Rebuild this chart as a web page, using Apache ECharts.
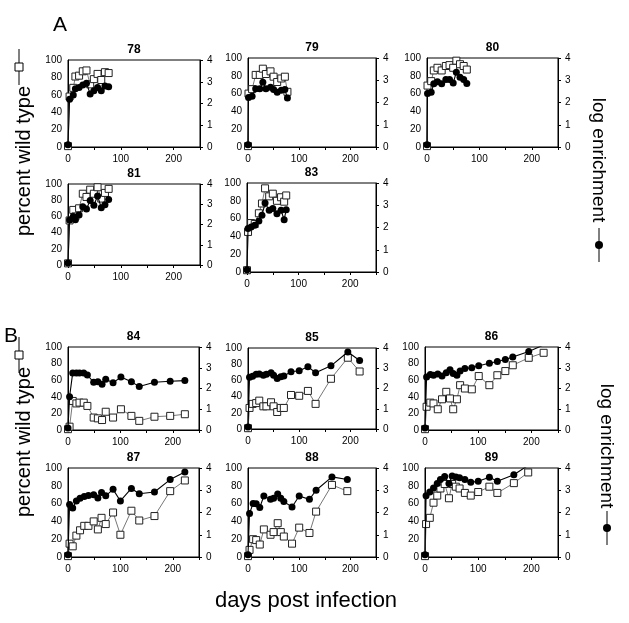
<!DOCTYPE html>
<html><head><meta charset="utf-8">
<script src="https://cdn.jsdelivr.net/npm/echarts/dist/echarts.min.js"></script>
<style>html,body{margin:0;padding:0;background:#fff;}#c{width:629px;height:623px;}</style>
</head><body><div id="c"></div>
<script>
// ---------- data ----------
const panelNames = ['78','79','80','81','83','84','85','86','87','88','89'];
const xTickLabels = [0, 100, 200];

const days78 = [0,3,10,14,21,28,35,42,49,56,63,70,77];
const wildType78 = [1,58,68,81,82,87,88,72,78,84,77,86,85];
const logEnr78 = [0.1,2.19,2.39,2.68,2.73,2.85,2.93,2.44,2.59,2.74,2.59,2.8,2.77];

const days79 = [0,1,8,15,23,29,35,44,50,57,65,72,77];
const wildType79 = [1,60,65,81,81,88,82,85,79,73,77,79,62];
const logEnr79 = [0.1,2.23,2.28,2.62,2.62,2.91,2.62,2.68,2.58,2.46,2.55,2.58,2.2];

const days80 = [0,1,8,13,20,28,36,43,50,56,63,70,76];
const wildType80 = [1,69,74,86,89,86,91,92,89,97,93,91,87];
const logEnr80 = [0.1,2.4,2.46,2.84,2.93,2.84,3.03,3.03,2.88,3.36,3.13,3.03,2.85];

const days81 = [0,3,10,14,21,28,35,42,49,56,63,70,77];
const wildType81 = [2,55,68,60,70,88,84,93,88,96,82,89,94];
const logEnr81 = [0.1,2.22,2.4,2.24,2.47,2.88,2.77,3.19,2.95,3.41,2.83,2.98,3.23];

const days83 = [0,2,8,15,23,29,35,43,50,58,66,72,76];
const wildType83 = [2,45,55,54,66,77,94,85,88,80,84,79,86];
const logEnr83 = [0.1,1.95,2.02,2.1,2.29,2.55,3.1,2.77,2.85,2.62,2.77,2.35,2.8];

const days84 = [0,3,9,16,22,30,37,49,57,65,72,86,101,121,136,165,195,223];
const wildType84 = [1,4,35,32,33,33,29,15,14,12,22,15,25,17,11,16,17,19];
const logEnr84 = [0.1,1.6,2.75,2.75,2.75,2.75,2.65,2.3,2.32,2.2,2.45,2.28,2.55,2.32,2.1,2.3,2.35,2.38];

const days85 = [0,3,9,16,22,30,36,45,50,57,64,70,84,100,117,132,162,195,218];
const wildType85 = [1,26,31,32,35,28,28,33,28,21,26,26,42,41,47,31,62,88,71];
const logEnr85 = [0.1,2.55,2.6,2.7,2.72,2.65,2.7,2.78,2.65,2.5,2.58,2.62,2.83,2.88,3.08,2.78,3.12,3.8,3.38];

const days86 = [0,3,10,16,24,32,40,47,53,60,66,75,88,101,121,136,151,165,195,223];
const wildType86 = [1,28,33,32,25,37,46,38,25,37,54,50,49,65,54,66,71,78,87,93];
const logEnr86 = [0.1,2.56,2.68,2.64,2.7,2.6,2.76,2.9,2.72,2.64,2.84,2.96,3.0,3.1,3.22,3.3,3.4,3.52,3.78,4.1];

const days87 = [0,3,9,16,23,31,39,49,57,64,72,86,100,121,136,165,195,223];
const wildType87 = [1,15,12,24,30,35,35,40,31,44,37,50,25,52,41,46,74,86];
const logEnr87 = [0.1,2.36,2.2,2.52,2.64,2.72,2.76,2.8,2.65,2.9,2.75,3.04,2.52,3.08,2.84,2.92,3.48,3.82];

const days88 = [0,3,10,16,23,31,44,50,58,64,70,86,100,120,133,164,194];
const wildType88 = [1,8,20,19,14,31,25,28,38,28,23,15,33,27,51,81,74];
const logEnr88 = [0.1,1.96,2.41,2.39,2.23,2.74,2.59,2.64,2.83,2.64,2.49,2.25,2.74,2.59,3.0,3.6,3.48];

const days89 = [0,2,9,16,23,29,37,45,51,58,65,75,86,100,121,136,167,194];
const wildType89 = [1,37,44,61,69,77,82,66,82,79,77,72,69,73,79,72,83,95];
const logEnr89 = [0.1,2.75,2.92,3.1,3.3,3.48,3.62,3.3,3.64,3.6,3.56,3.48,3.36,3.4,3.58,3.4,3.7,4.12];

// ---------- layout (pixel boxes: left, top, width, height) ----------
const layout = {
  '78': [68, 60, 132, 87],  '79': [248, 58, 128, 89], '80': [427, 58, 131, 89],
  '81': [68, 184, 132, 81], '83': [247, 183, 129, 89],
  '84': [68, 347, 131, 83], '85': [248, 348, 128, 81], '86': [425, 347, 133, 83],
  '87': [68, 468, 131, 89], '88': [248, 468, 128, 89], '89': [425, 468, 133, 89]
};
const dataByPanel = {
  '78': [days78, wildType78, logEnr78], '79': [days79, wildType79, logEnr79],
  '80': [days80, wildType80, logEnr80], '81': [days81, wildType81, logEnr81],
  '83': [days83, wildType83, logEnr83], '84': [days84, wildType84, logEnr84],
  '85': [days85, wildType85, logEnr85], '86': [days86, wildType86, logEnr86],
  '87': [days87, wildType87, logEnr87], '88': [days88, wildType88, logEnr88],
  '89': [days89, wildType89, logEnr89]
};

const FONT = '"Liberation Sans", Arial, Helvetica, sans-serif';
const grids = [], xAxes = [], yAxes = [], series = [], graphics = [];
const lbl = { fontSize: 10, color: '#000', fontFamily: FONT };

panelNames.forEach((name, i) => {
  const [l, t, w, h] = layout[name];
  const [d, wt, le] = dataByPanel[name];
  grids.push({ left: l, top: t, width: w, height: h, show: true, borderColor: '#000', borderWidth: 1,
               backgroundColor: 'transparent', containLabel: false, outerBoundsMode: 'none' });
  xAxes.push({ gridIndex: i, type: 'value', min: 0, max: 250, interval: 50,
    axisLine: { show: true, onZero: false, lineStyle: { color: '#000', width: 1 } },
    axisTick: { show: true, length: 3, lineStyle: { color: '#000' } },
    axisLabel: Object.assign({ margin: 7, formatter: v => xTickLabels.includes(v) ? String(v) : '' }, lbl),
    splitLine: { show: false } });
  yAxes.push({ gridIndex: i, type: 'value', position: 'left', min: 0, max: 100, interval: 20,
    axisLine: { show: true, onZero: false, lineStyle: { color: '#000', width: 1 } },
    axisTick: { show: false },
    axisLabel: Object.assign({ margin: 6 }, lbl), splitLine: { show: false } });
  yAxes.push({ gridIndex: i, type: 'value', position: 'right', min: 0, max: 4, interval: 1,
    axisLine: { show: true, onZero: false, lineStyle: { color: '#000', width: 1 } },
    axisTick: { show: true, length: 3, lineStyle: { color: '#000' } },
    axisLabel: Object.assign({ margin: 7 }, lbl), splitLine: { show: false } });
  series.push({ type: 'line', xAxisIndex: i, yAxisIndex: 2 * i, data: d.map((x, j) => [x, wt[j]]),
    symbol: 'rect', symbolSize: 7, showAllSymbol: true, clip: true, z: 2,
    itemStyle: { color: '#fff', borderColor: '#222', borderWidth: 1 },
    lineStyle: { color: '#777', width: 1 }, emphasis: { disabled: true } });
  series.push({ type: 'line', xAxisIndex: i, yAxisIndex: 2 * i + 1, data: d.map((x, j) => [x, le[j]]),
    symbol: 'circle', symbolSize: 7, showAllSymbol: true, clip: true, z: 3,
    itemStyle: { color: '#000' },
    lineStyle: { color: '#000', width: 1.1 }, emphasis: { disabled: true } });
  graphics.push({ type: 'text', x: l + w / 2, y: t - 10,
    style: { text: name, font: 'bold 12px ' + FONT, fill: '#000', align: 'center', verticalAlign: 'middle' } });
});

// section letters and big labels
graphics.push({ type: 'text', x: 53, y: 25, style: { text: 'A', font: '21px ' + FONT, fill: '#000', verticalAlign: 'middle' } });
graphics.push({ type: 'text', x: 4, y: 336, style: { text: 'B', font: '21px ' + FONT, fill: '#000', verticalAlign: 'middle' } });
graphics.push({ type: 'text', x: 306, y: 601,
  style: { text: 'days post infection', font: '22px ' + FONT, fill: '#000', align: 'center', verticalAlign: 'middle' } });

function leftLabel(cy, symY) {
  graphics.push({ type: 'text', x: 24, y: cy, rotation: Math.PI / 2,
    style: { text: 'percent wild type', font: '20px ' + FONT, fill: '#000', align: 'center', verticalAlign: 'middle' } });
  graphics.push({ type: 'line', shape: { x1: 19, y1: symY - 18, x2: 19, y2: symY + 18 }, style: { stroke: '#000', lineWidth: 1 } });
  graphics.push({ type: 'rect', shape: { x: 15, y: symY - 4, width: 8, height: 8 }, style: { fill: '#fff', stroke: '#000', lineWidth: 1 } });
}
function rightLabel(cx, cy, symY) {
  graphics.push({ type: 'text', x: cx, y: cy, rotation: -Math.PI / 2,
    style: { text: 'log enrichment', font: '19px ' + FONT, fill: '#000', align: 'center', verticalAlign: 'middle' } });
  graphics.push({ type: 'line', shape: { x1: cx + 1, y1: symY - 17, x2: cx + 1, y2: symY + 17 }, style: { stroke: '#000', lineWidth: 1 } });
  graphics.push({ type: 'circle', shape: { cx: cx + 1, cy: symY, r: 4 }, style: { fill: '#000' } });
}
leftLabel(161, 67);
leftLabel(442, 355);
rightLabel(598, 160, 245);
rightLabel(606, 446, 528);

const chart = echarts.init(document.getElementById('c'), null, { renderer: 'canvas' });
chart.setOption({
  animation: false,
  backgroundColor: '#fff',
  textStyle: { fontFamily: FONT },
  grid: grids, xAxis: xAxes, yAxis: yAxes, series: series, graphic: graphics,
  tooltip: { show: false }
});
</script></body></html>
